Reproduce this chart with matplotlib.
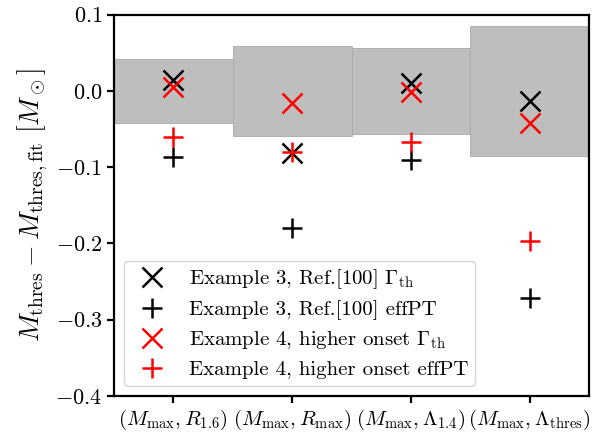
import numpy as np
import matplotlib
matplotlib.use('Agg')
import matplotlib.pyplot as plt

plt.rcParams.update({
    'font.family': 'serif',
    'font.serif': ['cmr10'],
    'mathtext.fontset': 'cm',
    'axes.formatter.use_mathtext': True,
    'axes.linewidth': 1.6,
    'xtick.major.width': 1.6,
    'ytick.major.width': 1.6,
    'xtick.major.size': 5,
    'ytick.major.size': 5,
    'xtick.labelsize': 15,
    'ytick.labelsize': 16,
})

# fit combinations and the fit's uncertainty band (+/-)
combos = [r'$(M_{\rm max},R_{1.6})$', r'$(M_{\rm max},R_{\rm max})$',
          r'$(M_{\rm max},\Lambda_{1.4})$', r'$(M_{\rm max},\Lambda_{\rm thres})$']
band = [0.042, 0.059, 0.056, 0.085]

# residuals M_thres - M_thres,fit
ex3_gamma = [0.014, -0.082, 0.010, -0.013]
ex3_effpt = [-0.086, -0.180, -0.090, -0.271]
ex4_gamma = [0.005, -0.016, -0.001, -0.042]
ex4_effpt = [-0.060, -0.080, -0.067, -0.197]

x = np.arange(1, len(combos) + 1)

fig = plt.figure(figsize=(5.92, 4.34), dpi=100)
ax = fig.add_axes([0.1926, 0.0876, 0.8024, 0.8785])

band = np.array(band)
ax.bar(x, 2 * band, bottom=-band, width=1.0, color='#bebebe',
       edgecolor='#a9a9a9', linewidth=0.6, zorder=1)

ms, mew = 15, 1.8
ax.plot(x, ex3_gamma, 'x', color='black', ms=ms, mew=mew, zorder=3,
        label=r'Example 3, Ref.[100] $\Gamma_{\rm th}$')
ax.plot(x, ex3_effpt, '+', color='black', ms=ms, mew=mew, zorder=3,
        label='Example 3, Ref.[100] effPT')
ax.plot(x, ex4_gamma, 'x', color='red', ms=ms, mew=mew, zorder=4,
        label=r'Example 4, higher onset $\Gamma_{\rm th}$')
ax.plot(x, ex4_effpt, '+', color='red', ms=ms, mew=mew, zorder=4,
        label='Example 4, higher onset effPT')

ax.set_xlim(0.5, 4.5)
ax.set_ylim(-0.4, 0.1)
ax.set_xticks(x)
ax.set_xticklabels(combos)
ax.set_yticks(np.arange(-0.4, 0.11, 0.1))
ax.set_ylabel(r'$M_{\rm thres}-M_{\rm thres,fit}\ [M_\odot]$', fontsize=20)

ax.legend(loc='lower left', fontsize=15, handletextpad=0.8,
          labelspacing=0.45, borderpad=0.3, borderaxespad=0.5)

fig.savefig('out.png', dpi=100)
